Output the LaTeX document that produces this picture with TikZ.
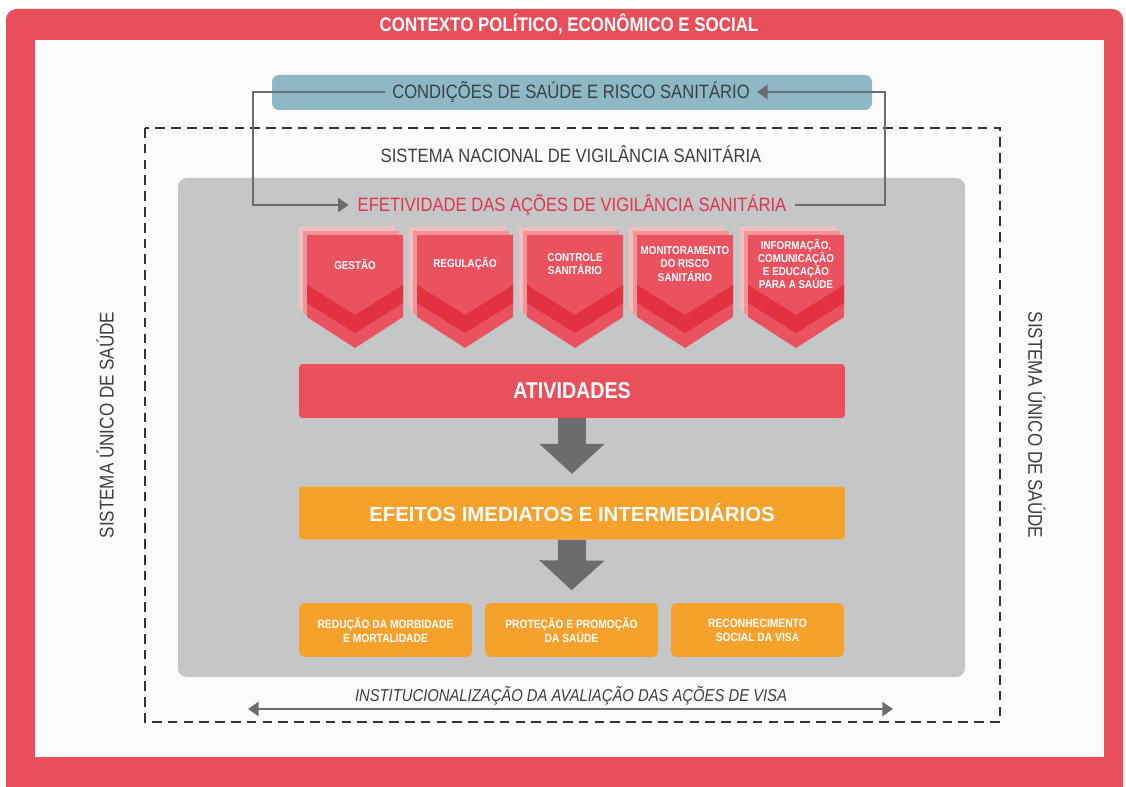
\documentclass[tikz,border=0pt]{standalone}
\usepackage{fontspec}
\setmainfont{Liberation Sans}[FakeStretch=0.86]
\newfontfamily\widefont{Liberation Sans}
\usetikzlibrary{arrows.meta,calc}
\definecolor{framered}{RGB}{232,78,90}
\definecolor{barred}{RGB}{232,80,92}
\definecolor{badgered}{RGB}{233,82,94}
\definecolor{bandred}{RGB}{226,49,63}
\definecolor{backpink}{RGB}{246,190,188}
\definecolor{midpink}{RGB}{239,150,154}
\definecolor{visaorange}{RGB}{245,161,43}
\definecolor{panelgray}{RGB}{197,198,200}
\definecolor{condteal}{RGB}{140,185,197}
\definecolor{arrowgray}{RGB}{107,108,110}
\definecolor{txtgray}{RGB}{60,64,67}
\definecolor{efetred}{RGB}{226,53,75}
% one badge: left x, node name, text
\def\badge(#1)#2#3{%
  \fill[backpink] ($(#1,235)+(-8,-8)$) -- ++(96,0) -- ++(0,82) -- ++(-48,31) -- ++(-48,-31) -- cycle;
  \fill[midpink] ($(#1,235)+(-4,-4)$) -- ++(96,0) -- ++(0,82) -- ++(-48,31) -- ++(-48,-31) -- cycle;
  \fill[badgered] (#1,235) -- ++(96,0) -- ++(0,82) -- ++(-48,31) -- ++(-48,-31) -- cycle;
  \fill[bandred] (#1,285) -- ++(48,30) -- ++(48,-30) -- ++(0,18) -- ++(-48,30) -- ++(-48,-30) -- cycle;
  \node[badgetext] (#2) at ($(#1,264)+(48,0)$) {#3};}

\begin{document}
\begin{tikzpicture}[x=0.02cm,y=-0.02cm,
    badgetext/.style={text=white,font=\bfseries\fontsize{6.5}{7.5}\selectfont,align=center,inner sep=0},
    loopline/.style={draw=arrowgray,line width=1.2pt,-{Triangle[width=8pt,length=6pt]}},
    bigarrow/.style={draw=arrowgray,line width=16pt,-{Triangle[width=36pt,length=17pt]},shorten >=7pt},
    redbar/.style={fill=barred,rounded corners=2pt,minimum width=10.92cm,minimum height=1.08cm,text=white},
    orangebar/.style={fill=visaorange,rounded corners=2pt,minimum width=10.92cm,minimum height=1.06cm,text=white},
    effectbox/.style={fill=visaorange,rounded corners=3pt,minimum width=3.46cm,minimum height=1.08cm,text=white,
      align=center,font=\bfseries\fontsize{6.8}{8}\selectfont},
    sustext/.style={text=txtgray,font=\fontsize{11.3}{13}\selectfont}]
		%%%%% FRAME %%%%%
		\useasboundingbox (0,0) rectangle (1126,787);
		\clip (0,0) rectangle (1126,787);
		\fill[white] (0,0) rectangle (1126,787);
		\fill[framered, rounded corners=6pt] (6,9) rectangle (1123,810);
		\fill[white!97!gray] (35,40) rectangle (1104,757);
		\node[text=white, font=\bfseries\fontsize{11.2}{13}\selectfont] (ctx) at (569,24) {CONTEXTO POLÍTICO, ECONÔMICO E SOCIAL};
		
		%%%%% CONDICOES %%%%%
		\fill[condteal, rounded corners=4pt] (272,75) rectangle (872,110);
		\node[text=txtgray, font=\fontsize{11}{13}\selectfont, inner sep=4pt] (cond) at (571,92) {CONDIÇÕES DE SAÚDE E RISCO SANITÁRIO};
		
		%%%%% SNVS %%%%%
		\draw[black!80, line width=0.85pt, dash pattern=on 5.5pt off 3.5pt] (145,128) rectangle (1000,722);
		\node[text=txtgray, font=\fontsize{11}{13}\selectfont] (snvs) at (571,154) {SISTEMA NACIONAL DE VIGILÂNCIA SANITÁRIA};
		\fill[panelgray, rounded corners=5pt] (178,178) rectangle (965,677);
		\node[text=efetred, font=\fontsize{11}{13}\selectfont, inner sep=5pt] (efet) at (572,205) {EFETIVIDADE DAS AÇÕES DE VIGILÂNCIA SANITÁRIA};
		
		\coordinate (lx) at (253,0);
		\coordinate (rx) at (885,0);
		\draw[loopline] (cond.west) -- (cond.west -| lx) |- (efet.west);
		\draw[loopline] (efet.east) -- (efet.east -| rx) |- (cond.east);
		
		%%%%% BADGES %%%%%
		\badge(307){ges}{GESTÃO}
		\badge(417){reg}{REGULAÇÃO}
		\badge(527){con}{CONTROLE\\SANITÁRIO}
		\badge(637){mon}{MONITORAMENTO\\DO RISCO\\SANITÁRIO}
		\badge(748){inf}{INFORMAÇÃO,\\COMUNICAÇÃO\\E EDUCAÇÃO\\PARA A SAÚDE}
		
		%%%%% ATIVIDADES / EFEITOS %%%%%
		\node[redbar, font=\bfseries\fontsize{13}{15}\selectfont] (ativ) at (572,391) {ATIVIDADES};
		\node[orangebar, font=\widefont\bfseries\fontsize{11.6}{14}\selectfont] (efeit) at (572,513) {EFEITOS IMEDIATOS E INTERMEDIÁRIOS};
		\node[effectbox] (red) at (385.5,630) {REDUÇÃO DA MORBIDADE\\E MORTALIDADE};
		\node[effectbox] (pro) at (571.5,630) {PROTEÇÃO E PROMOÇÃO\\DA SAÚDE};
		\node[effectbox] (rec) at (757.5,630) {RECONHECIMENTO\\SOCIAL DA VISA};
		
		\draw[bigarrow] (ativ.south) -- (efeit.north);
		\draw[bigarrow] (efeit.south) -- (pro.north);
		
		%%%%% INSTITUCIONALIZACAO %%%%%
		\node[text=txtgray, font=\itshape\fontsize{9.8}{11}\selectfont] (inst) at (571,696) {INSTITUCIONALIZAÇÃO DA AVALIAÇÃO DAS AÇÕES DE VISA};
		\coordinate (ia) at (248,709);
		\coordinate (ib) at (893,709);
		\draw[draw=arrowgray, line width=1.2pt, {Triangle[width=8pt,length=6pt]}-{Triangle[width=8pt,length=6pt]}] (ia) -- (ib);
		
		%%%%% SUS %%%%%
		\node[sustext, rotate=90] (susl) at (105,425) {SISTEMA ÚNICO DE SAÚDE};
		\node[sustext, rotate=-90] (susr) at (1037,425) {SISTEMA ÚNICO DE SAÚDE};
		%%%%% END %%%%%
	\end{tikzpicture}
\end{document}
